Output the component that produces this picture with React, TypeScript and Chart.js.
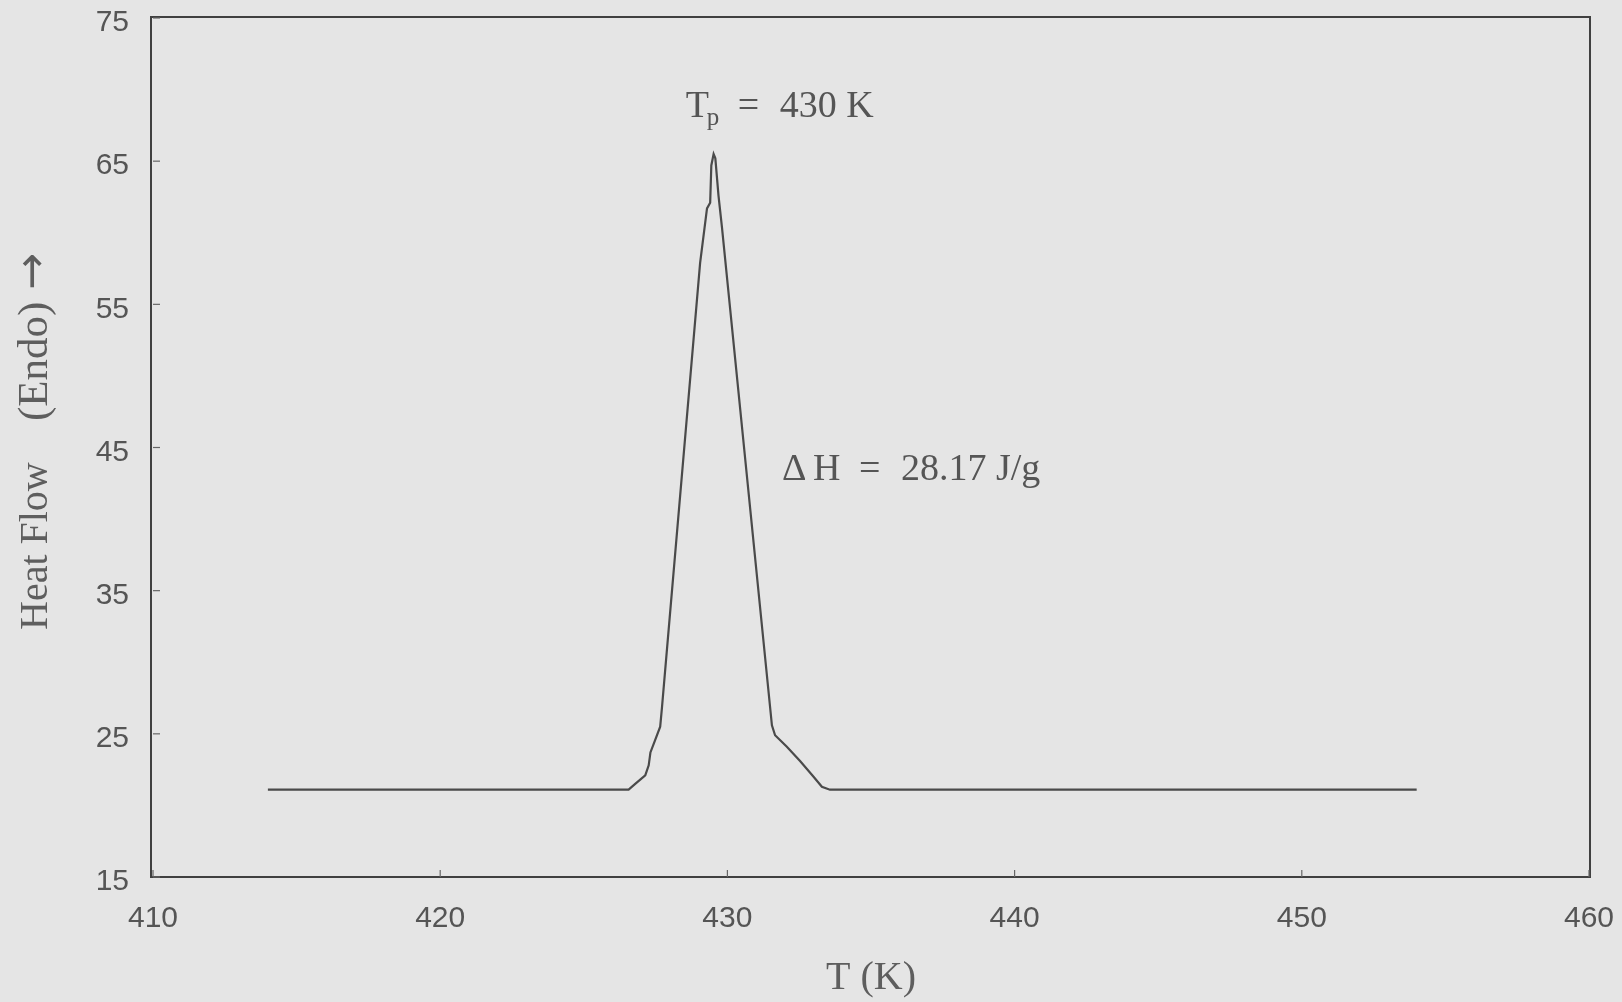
import React, { useEffect, useRef } from "react";
import { Chart, registerables } from "chart.js";

Chart.register(...registerables);

// Temperature (K) and heat flow
const temperatureK = [
  414, 426.56, 426.79, 427.14, 427.26, 427.32, 427.49, 427.66, 427.72, 429.05,
  429.29, 429.4, 429.44, 429.52, 429.58, 429.69, 429.81, 431.55, 431.66, 432.07,
  432.53, 433.0, 433.29, 433.57, 454,
];
const heatFlow = [
  21.1, 21.1, 21.5, 22.1, 22.8, 23.7, 24.6, 25.5, 26.8, 57.9,
  61.7, 62.1, 64.7, 65.5, 65.2, 62.6, 60.4, 25.6, 24.9, 24.1,
  23.1, 22.0, 21.3, 21.1, 21.1,
];
const xTickValues = [410, 420, 430, 440, 450, 460];
const yTickValues = [15, 25, 35, 45, 55, 65, 75];

const xTitle = "T (K)";
const yTitleMain = "Heat Flow";
const yTitleParen = "(Endo)";
const yTitleArrow = "\u2192";
const peakLabelMain = "430 K";
const enthalpyValue = "28.17 J/g";

const BG = "#e5e5e5";
const TEXT = "#555555";

const serif = '"Liberation Serif", "Times New Roman", serif';
const sans = '"Liberation Sans", Arial, sans-serif';

const decorPlugin = {
  id: "decor",
  beforeDraw(chart: any) {
    const ctx = chart.ctx;
    ctx.save();
    ctx.fillStyle = BG;
    ctx.fillRect(0, 0, chart.width, chart.height);
    ctx.restore();
  },
  afterDraw(chart: any) {
    const ctx = chart.ctx;
    const a = chart.chartArea;
    const xs = chart.scales.x;
    const ys = chart.scales.y;
    ctx.save();
    // frame
    ctx.strokeStyle = "#404040";
    ctx.lineWidth = 2;
    ctx.strokeRect(a.left - 2, a.top - 1, a.right - a.left + 3, a.bottom - a.top + 1);
    // inward tick marks
    ctx.lineWidth = 1.2;
    ctx.strokeStyle = "#666";
    xTickValues.forEach((v) => {
      const px = xs.getPixelForValue(v);
      ctx.beginPath();
      ctx.moveTo(px, a.bottom);
      ctx.lineTo(px, a.bottom - 7);
      ctx.stroke();
    });
    yTickValues.forEach((v) => {
      const py = ys.getPixelForValue(v);
      ctx.beginPath();
      ctx.moveTo(a.left, py);
      ctx.lineTo(a.left + 7, py);
      ctx.stroke();
    });

    // tick labels
    ctx.fillStyle = TEXT;
    ctx.font = `30px ${sans}`;
    ctx.textBaseline = "middle";
    ctx.textAlign = "right";
    yTickValues.forEach((v) => {
      ctx.fillText(String(v), a.left - 24, ys.getPixelForValue(v) + 5);
    });
    ctx.textAlign = "center";
    xTickValues.forEach((v) => {
      ctx.fillText(String(v), xs.getPixelForValue(v), a.bottom + 42);
    });

    // annotations
    ctx.textBaseline = "alphabetic";
    ctx.textAlign = "left";
    const tpX = xs.getPixelForValue(428.55);
    const tpY = ys.getPixelForValue(68.1);
    ctx.font = `38px ${serif}`;
    ctx.fillText("T", tpX, tpY);
    ctx.font = `25px ${serif}`;
    ctx.fillText("p", tpX + 21, tpY + 8);
    ctx.font = `38px ${serif}`;
    ctx.fillText("=", tpX + 52, tpY);
    ctx.fillText(peakLabelMain, tpX + 94, tpY);

    const dhX = xs.getPixelForValue(431.9);
    const dhY = ys.getPixelForValue(42.75);
    ctx.fillText("\u0394", dhX, dhY);
    ctx.fillText("H", dhX + 31, dhY);
    ctx.fillText("=", dhX + 77, dhY);
    ctx.fillText(enthalpyValue, dhX + 119, dhY);

    // axis titles
    ctx.fillStyle = "#5e5e5e";
    ctx.textAlign = "center";
    ctx.textBaseline = "middle";
    ctx.font = `40px ${serif}`;
    ctx.fillText(xTitle, (a.left + a.right) / 2, 978);

    ctx.translate(47, 0);
    ctx.rotate(-Math.PI / 2);
    ctx.textAlign = "left";
    ctx.textBaseline = "alphabetic";
    ctx.font = `40px ${serif}`;
    ctx.fillText(yTitleMain, -630, 0);
    ctx.font = `43px ${serif}`;
    ctx.fillText(yTitleParen, -421, 0);
    ctx.font = `44px "DejaVu Sans", sans-serif`;
    ctx.fillText(yTitleArrow, -290, -1);
    ctx.restore();
  },
};

export default function App() {
  const ref = useRef<HTMLCanvasElement | null>(null);
  useEffect(() => {
    document.body.style.margin = "0";
    document.body.style.background = BG;
    const canvas = ref.current;
    if (!canvas) return;
    const points = temperatureK.map((t, i) => ({ x: t, y: heatFlow[i] }));
    const chart = new Chart(canvas, {
      type: "line",
      data: {
        datasets: [
          {
            data: points,
            borderColor: "#4a4a4a",
            borderWidth: 2.2,
            pointRadius: 0,
            tension: 0,
            fill: false,
          },
        ],
      },
      options: {
        animation: false,
        responsive: false,
        maintainAspectRatio: false,
        layout: { padding: { top: 18, right: 33, left: 153, bottom: 125 } },
        plugins: { legend: { display: false }, tooltip: { enabled: false } },
        scales: {
          x: { type: "linear", min: 410, max: 460, display: false },
          y: { type: "linear", min: 15, max: 75, display: false },
        },
      },
      plugins: [decorPlugin],
    });
    return () => chart.destroy();
  }, []);
  return (
    <div style={{ position: "absolute", left: 0, top: 0, width: 1622, height: 1002, background: BG }}>
      <canvas ref={ref} width={1622} height={1002} />
    </div>
  );
}
